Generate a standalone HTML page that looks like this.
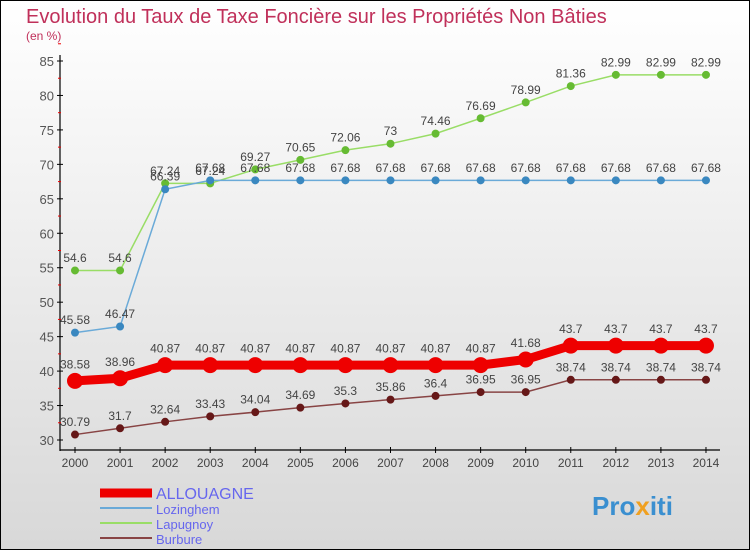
<!DOCTYPE html>
<html><head><meta charset="utf-8"><style>
body{margin:0}
#c{width:750px;height:550px;position:relative;background:linear-gradient(#fff,#d8d8d8);box-sizing:border-box;border:1px solid #000;overflow:hidden;font-family:"Liberation Sans",sans-serif}
</style></head><body>
<div id="c">
<svg id="s" width="750" height="550" style="position:absolute;left:-1px;top:-1px">
<text x="26" y="23" font-size="20" fill="#c0305a">Evolution du Taux de Taxe Foncière sur les Propriétés Non Bâties</text>
<text x="26" y="40" font-size="12" fill="#c0305a">(en %)</text>
<g id="g"></g>
<text x="592" y="515" font-size="26" font-weight="bold" fill="#3a8fd0">Pro<tspan fill="#f0a020">x</tspan>iti</text>
</svg>
</div>
<script>
const years=["2000","2001","2002","2003","2004","2005","2006","2007","2008","2009","2010","2011","2012","2013","2014"];
const yTicks=[30,35,40,45,50,55,60,65,70,75,80,85];
const allouagne=[38.58,38.96,40.87,40.87,40.87,40.87,40.87,40.87,40.87,40.87,41.68,43.7,43.7,43.7,43.7];
const lozinghem=[45.58,46.47,66.39,67.68,67.68,67.68,67.68,67.68,67.68,67.68,67.68,67.68,67.68,67.68,67.68];
const lapugnoy=[54.6,54.6,67.24,67.24,69.27,70.65,72.06,73,74.46,76.69,78.99,81.36,82.99,82.99,82.99];
const burbure=[30.79,31.7,32.64,33.43,34.04,34.69,35.3,35.86,36.4,36.95,36.95,38.74,38.74,38.74,38.74];
const series=[
 {name:"Lapugnoy",v:lapugnoy,c:"#99dd66",d:"#66bb33",w:1.5,r:3.5},
 {name:"Lozinghem",v:lozinghem,c:"#6aaad8",d:"#3a88c0",w:1.5,r:3.5},
 {name:"Burbure",v:burbure,c:"#884444",d:"#661818",w:1.5,r:3.5},
 {name:"ALLOUAGNE",v:allouagne,c:"#ee0000",d:"#ee0000",w:9,r:7.5}
];
const X=i=>75+i*45.07, Y=v=>440-(v-30)*379/55;
const g=document.getElementById('g'),NS="http://www.w3.org/2000/svg";
function mk(t,a,n){const e=document.createElementNS(NS,t);for(const k in a)e.setAttribute(k,a[k]);


g.appendChild(e);return e;}
mk('line',{x1:60,y1:55,x2:60,y2:451,stroke:'#000','stroke-width':1.2},'y-axis');
mk('line',{x1:60,y1:450,x2:720,y2:450,stroke:'#000','stroke-width':1.2},'x-axis');
yTicks.forEach(t=>{mk('line',{x1:57,y1:Y(t),x2:63,y2:Y(t),stroke:'#000'},'y-tick');
 mk('line',{x1:58,y1:Y(t+2.5),x2:61,y2:Y(t+2.5),stroke:'#e00'},'y-minor-tick');
 const e=mk('text',{x:54,y:Y(t)+5,'text-anchor':'end','font-size':13,fill:'#555'},'y-tick-label');e.textContent=t;});
years.forEach((y,i)=>{mk('line',{x1:X(i),y1:447,x2:X(i),y2:453,stroke:'#000'},'x-tick');
 const e=mk('text',{x:X(i),y:467,'text-anchor':'middle','font-size':12,fill:'#444'},'x-tick-label');e.textContent=y;});
series.forEach(s=>{
 mk('polyline',{points:s.v.map((v,i)=>X(i)+','+Y(v)).join(' '),fill:'none',stroke:s.c,'stroke-width':s.w},'line-'+s.name.toLowerCase());
 s.v.forEach((v,i)=>{mk('circle',{cx:X(i),cy:Y(v),r:s.r,fill:s.d,stroke:s.d},'point-'+s.name.toLowerCase());
  const e=mk('text',{x:X(i),y:Y(v)-(s.r+5),'text-anchor':'middle','font-size':12,fill:'#444'},'value-label');e.textContent=v;});
});
const leg=[["ALLOUAGNE","#ee0000",9,16],["Lozinghem","#6aaad8",2,13],["Lapugnoy","#99dd66",2,13],["Burbure","#884444",2,13]];
leg.forEach((l,i)=>{const y=493+i*15;
 mk('line',{x1:100,y1:y,x2:152,y2:y,stroke:l[1],'stroke-width':l[2]},'legend-swatch');
 const e=mk('text',{x:156,y:y+6,'font-size':l[3],fill:'#6666ee'},'legend-entry');e.textContent=l[0];});
</script>
</body></html>
